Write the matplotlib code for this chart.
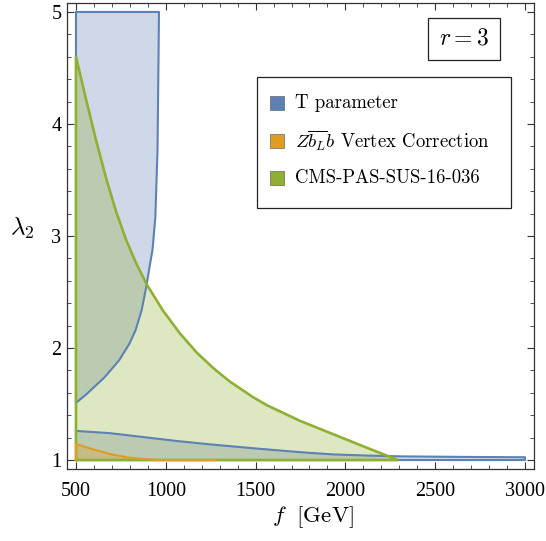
import matplotlib
matplotlib.use("Agg")
import matplotlib.pyplot as plt
from matplotlib.patches import Rectangle
from matplotlib.ticker import MultipleLocator

plt.rcParams['font.family'] = ['Liberation Serif', 'DejaVu Serif']
plt.rcParams['mathtext.fontset'] = 'cm'

# T parameter, upper region: right boundary f(lambda2)
blue_up_y = [5.0, 4.66, 3.77, 3.17, 2.875, 2.73, 2.56, 2.34, 2.16, 2.04, 1.89, 1.74, 1.65, 1.58, 1.51]
blue_up_x = [962, 960, 954, 942, 926, 910, 893, 866, 832, 798, 740, 660, 600, 553, 500]
# T parameter, lower band: upper boundary lambda2(f)
blue_lo_x = [500, 689, 875, 1061, 1246, 1524, 1750, 1933, 2119, 2304, 2650, 3000]
blue_lo_y = [1.26, 1.24, 1.205, 1.17, 1.14, 1.10, 1.07, 1.05, 1.04, 1.033, 1.028, 1.025]
# Z b_L b vertex correction
orange_x = [500, 596, 689, 782, 875, 968, 1280]
orange_y = [1.143, 1.095, 1.054, 1.024, 1.01, 1.0, 1.0]
# CMS-PAS-SUS-16-036
green_x = [500, 556, 611, 667, 723, 778, 834, 893, 986, 1079, 1172, 1265, 1357,
           1487, 1562, 1747, 1933, 2119, 2293]
green_y = [4.60, 4.22, 3.86, 3.52, 3.22, 2.97, 2.76, 2.57, 2.33, 2.13, 1.96, 1.82, 1.70,
           1.56, 1.49, 1.35, 1.23, 1.11, 1.0]

labels = ['T parameter',
          r'$Z\overline{b_L}b$ Vertex Correction',
          'CMS-PAS-SUS-16-036']

c_blue = '#5E81B5'
c_orange = '#E19C24'
c_green = '#8FB032'
alpha = 0.3
lw = 1.5

fig = plt.figure(figsize=(5.46, 5.41), dpi=100)
ax = fig.add_axes([67 / 546, 72 / 541, 467 / 546, 466 / 541])

# blue regions
bx = [500] + blue_up_x
by = [5.0] + blue_up_y
ax.fill(bx, by, facecolor=c_blue, alpha=alpha, lw=0)
ax.plot(bx + [500], by + [5.0], color=c_blue, lw=lw)
lx = [500] + blue_lo_x + [3000]
ly = [1.0] + blue_lo_y + [1.0]
ax.fill(lx, ly, facecolor=c_blue, alpha=alpha, lw=0)
ax.plot(lx + [500], ly + [1.0], color=c_blue, lw=lw)

# green region
gx = [500] + green_x
gy = [1.0] + green_y
ax.fill(gx, gy, facecolor=c_green, alpha=alpha, lw=0)
ax.plot(gx + [500], gy + [1.0], color=c_green, lw=lw + 0.4)

# orange region
ox = [500] + orange_x
oy = [1.0] + orange_y
ax.fill(ox, oy, facecolor=c_orange, alpha=alpha, lw=0)
ax.plot(ox, oy, color=c_orange, lw=lw)

ax.set_xlim(450, 3050)
ax.set_ylim(0.92, 5.08)
ax.xaxis.set_major_locator(MultipleLocator(500))
ax.xaxis.set_minor_locator(MultipleLocator(100))
ax.yaxis.set_major_locator(MultipleLocator(1))
ax.yaxis.set_minor_locator(MultipleLocator(0.2))
ax.tick_params(which='both', direction='in', top=True, right=True,
               color='#333333', labelsize=14.5)
ax.tick_params(which='major', length=5, width=0.8)
ax.tick_params(which='minor', length=3, width=0.6)
ax.tick_params(axis='x', pad=9)
ax.tick_params(axis='y', pad=4)
for s in ax.spines.values():
    s.set_color('#333333')
    s.set_linewidth(0.9)

ax.set_xlabel(r'$f\ \ [\mathrm{GeV}]$', fontsize=16.5)
ax.xaxis.set_label_coords(0.527, -0.075)
ax.set_ylabel(r'$\lambda_2$', fontsize=18, rotation=0)
ax.yaxis.set_label_coords(-0.095, 0.49)

# r = 3 box
fig.text(464 / 546, 1 - 39 / 541, r'$r=3$', fontsize=17, ha='center', va='center',
         bbox=dict(boxstyle='square,pad=0.45', facecolor='white',
                   edgecolor='#222222', lw=0.9))

# legend
fig.patches.append(Rectangle((257 / 546, 1 - 208 / 541), 254 / 546, 131 / 541,
                             transform=fig.transFigure, facecolor='white',
                             edgecolor='#222222', lw=0.9, zorder=5))
for i, (lab, c) in enumerate(zip(labels, [c_blue, c_orange, c_green])):
    yc = 103 + 37.5 * i
    fig.patches.append(Rectangle((270 / 546, 1 - (yc + 7) / 541), 14 / 546, 14 / 541,
                                 transform=fig.transFigure, facecolor=c,
                                 edgecolor='#666666', lw=0.5, zorder=6))
    fig.text(295 / 546, 1 - yc / 541, lab, fontsize=13.5, ha='left', va='center',
             family='cmr10', zorder=7)

fig.savefig('out.png', dpi=100)
